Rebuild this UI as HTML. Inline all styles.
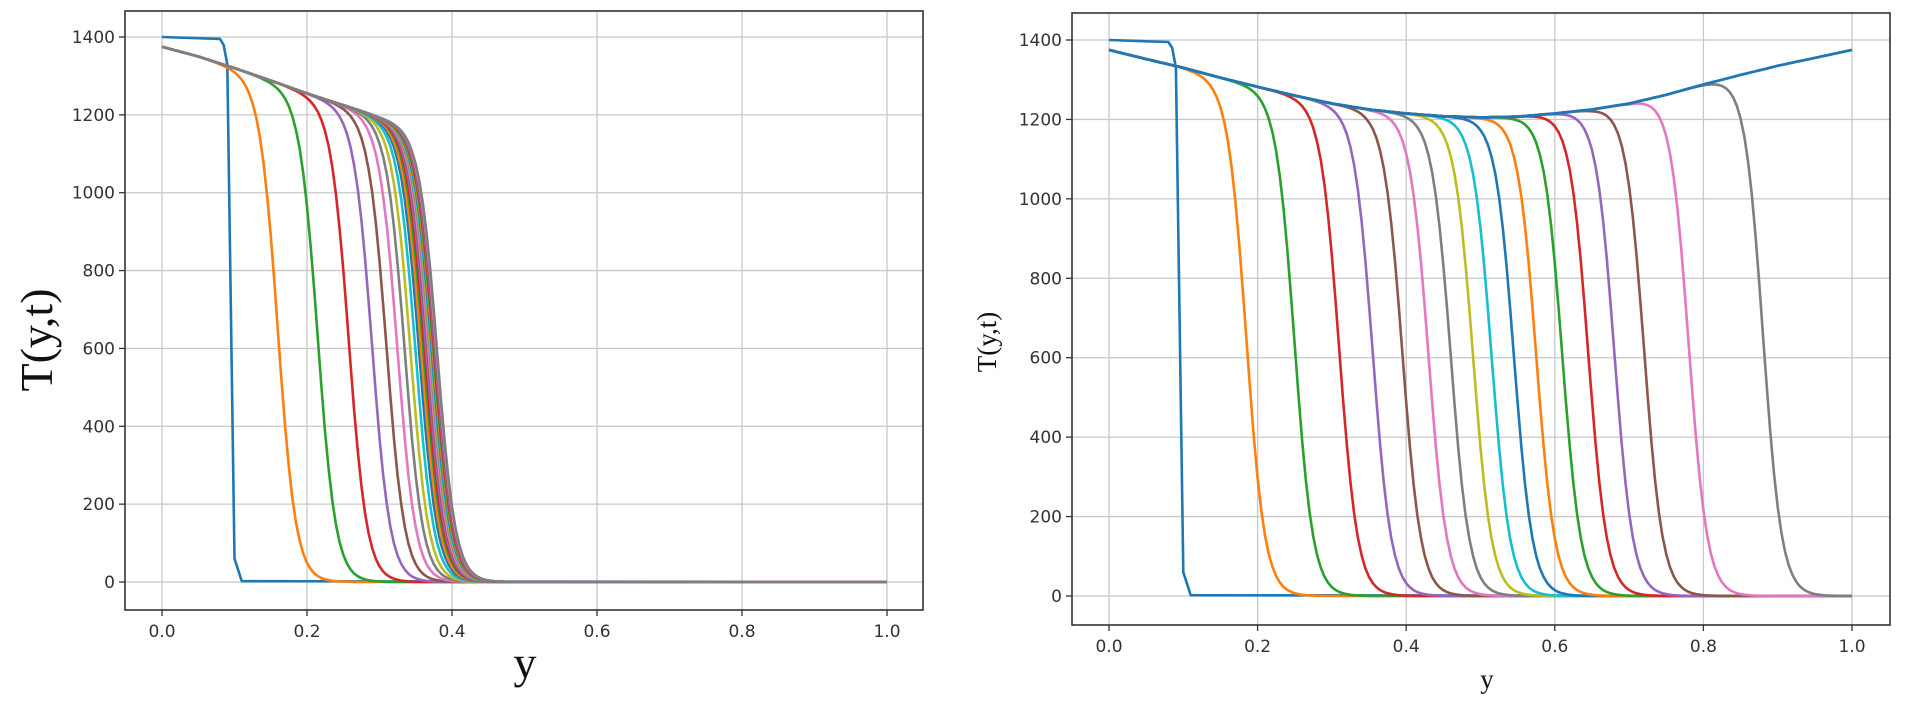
<!DOCTYPE html>
<html><head><meta charset="utf-8">
<style>
html,body{margin:0;padding:0;background:#fff;}
svg{display:block;}
.tick{font-family:"DejaVu Sans","Liberation Sans",sans-serif;font-size:17px;fill:#333;}
.lab{font-family:"Liberation Serif",serif;fill:#111;}
</style></head>
<body>
<svg id="chart" width="1905" height="704" viewBox="0 0 1905 704" xmlns="http://www.w3.org/2000/svg">
<g id="left"></g>
<g id="right"></g>
</svg>
<script>
const xTicks = [0.0, 0.2, 0.4, 0.6, 0.8, 1.0];
const xTickLabels = ["0.0","0.2","0.4","0.6","0.8","1.0"];
const yTicks = [0, 200, 400, 600, 800, 1000, 1200, 1400];
const yTickLabels = ["0","200","400","600","800","1000","1200","1400"];
const colors = ["#1f77b4","#ff7f0e","#2ca02c","#d62728","#9467bd","#8c564b","#e377c2","#7f7f7f","#bcbd22","#17becf"];

// initial step profile (both charts)
const stepY = [0, 0.08, 0.085, 0.09, 0.1, 0.11, 1.0];
const stepT = [1400, 1395, 1380, 1330, 60, 2, 0];

// envelope samples at y = 0, 0.05, ..., 1.0
const envGrid = [0,0.05,0.1,0.15,0.2,0.25,0.3,0.35,0.4,0.45,0.5,0.55,0.6,0.65,0.7,0.75,0.8,0.85,0.9,0.95,1.0];
const leftEnv = [1375,1350,1320,1288,1255,1225,1195,1170,1150,1130,1110,1090,1070,1050,1030,1010,990,970,950,930,910];
const rightEnv = [1375,1352,1330,1305,1282,1260,1240,1225,1215,1208,1205,1207,1215,1225,1240,1262,1288,1312,1335,1355,1375];

// front positions (y where T falls to half) per series
const leftFronts = [0.16,0.215,0.258,0.29,0.31,0.325,0.335,0.343,0.35,0.355,0.358,0.361,0.363,0.365,0.367,0.368,0.37,0.371,0.372,0.373,0.374,0.375,0.376,0.377,0.378,0.379,0.38];
const rightFronts = [0.185,0.25,0.31,0.355,0.395,0.43,0.46,0.49,0.515,0.545,0.575,0.61,0.645,0.68,0.72,0.78,0.88];
const frontWidth = [0.0125];

const NS = "http://www.w3.org/2000/svg";
function mk(parent, tag, attrs){const e=document.createElementNS(NS,tag);for(const k in attrs)e.setAttribute(k,attrs[k]);parent.appendChild(e);return e;}

function envAt(env, y){
  const i = Math.min(envGrid.length-2, Math.max(0, Math.floor(y/0.05)));
  const t = (y-envGrid[i])/(envGrid[i+1]-envGrid[i]);
  return env[i]+(env[i+1]-env[i])*t;
}

function drawChart(g, box, env, fronts, finalEnvelope, lab){
  const sx = v => box.x0 + v*box.kx;
  const sy = v => box.y0 - v*box.ky;
  xTicks.forEach((v,i)=>{
    const l = mk(g,'line',{x1:sx(v),x2:sx(v),y1:box.top,y2:box.bottom,stroke:'#c8c8c8','stroke-width':1.3});
    
    
    mk(g,'line',{x1:sx(v),x2:sx(v),y1:box.bottom,y2:box.bottom+6,stroke:'#333','stroke-width':1.3});
    const t = mk(g,'text',{x:sx(v),y:box.bottom+27,'text-anchor':'middle',class:'tick'});
    t.textContent = xTickLabels[i];
    
    
  });
  yTicks.forEach((v,i)=>{
    const l = mk(g,'line',{x1:box.left,x2:box.right,y1:sy(v),y2:sy(v),stroke:'#c8c8c8','stroke-width':1.3});
    
    
    mk(g,'line',{x1:box.left-6,x2:box.left,y1:sy(v),y2:sy(v),stroke:'#333','stroke-width':1.3});
    const t = mk(g,'text',{x:box.left-10,y:sy(v)+6,'text-anchor':'end',class:'tick'});
    t.textContent = yTickLabels[i];
    
    
  });
  const clip = mk(g,'g',{});
  let d = stepY.map((y,i)=>(i?'L':'M')+sx(y).toFixed(1)+','+sy(stepT[i]).toFixed(1)).join('');
  const p0 = mk(clip,'path',{d:d,fill:'none',stroke:colors[0],'stroke-width':2.6,'stroke-linejoin':'round'});
  
  
  const N = 200;
  fronts.forEach((f,k)=>{
    let pts=[];
    for(let i=0;i<=N;i++){
      const y=i/N;
      const T = envAt(env,y)/(1+Math.exp((y-f)/frontWidth[0]));
      pts.push((i?'L':'M')+sx(y).toFixed(1)+','+sy(T).toFixed(1));
    }
    const p = mk(clip,'path',{d:pts.join(''),fill:'none',stroke:colors[(k+1)%10],'stroke-width':2.6,'stroke-linejoin':'round'});
    
    
  });
  if(finalEnvelope){
    let pts=[];
    for(let i=0;i<=N;i++){const y=i/N;pts.push((i?'L':'M')+sx(y).toFixed(1)+','+sy(envAt(env,y)).toFixed(1));}
    const p = mk(clip,'path',{d:pts.join(''),fill:'none',stroke:colors[0],'stroke-width':2.8});
    
    
  }
  const fr = mk(g,'rect',{x:box.left,y:box.top,width:box.right-box.left,height:box.bottom-box.top,fill:'none',stroke:'#333','stroke-width':1.6});
  
  
  const yl = mk(g,'text',{x:lab.yx,y:lab.yy,'text-anchor':'middle',class:'lab','font-size':lab.size,transform:'rotate(-90 '+lab.yx+' '+lab.yy+')'});
  yl.textContent='T(y,t)';
  
  
  const xl = mk(g,'text',{x:lab.xx,y:lab.xy,'text-anchor':'middle',class:'lab','font-size':lab.size});
  xl.textContent='y';
  
  
}

drawChart(document.getElementById('left'),
  {left:125,right:923,top:11,bottom:610,x0:162,kx:145*5,y0:582,ky:(582-37)/1400},
  leftEnv, leftFronts, false,
  {yx:52,yy:340,xx:525,xy:678,size:46});
drawChart(document.getElementById('right'),
  {left:1072,right:1890,top:13,bottom:625,x0:1109,kx:148.6*5,y0:596,ky:(596-40)/1400},
  rightEnv, rightFronts, true,
  {yx:996,yy:342,xx:1487,xy:688,size:27});
</script>
</body></html>
